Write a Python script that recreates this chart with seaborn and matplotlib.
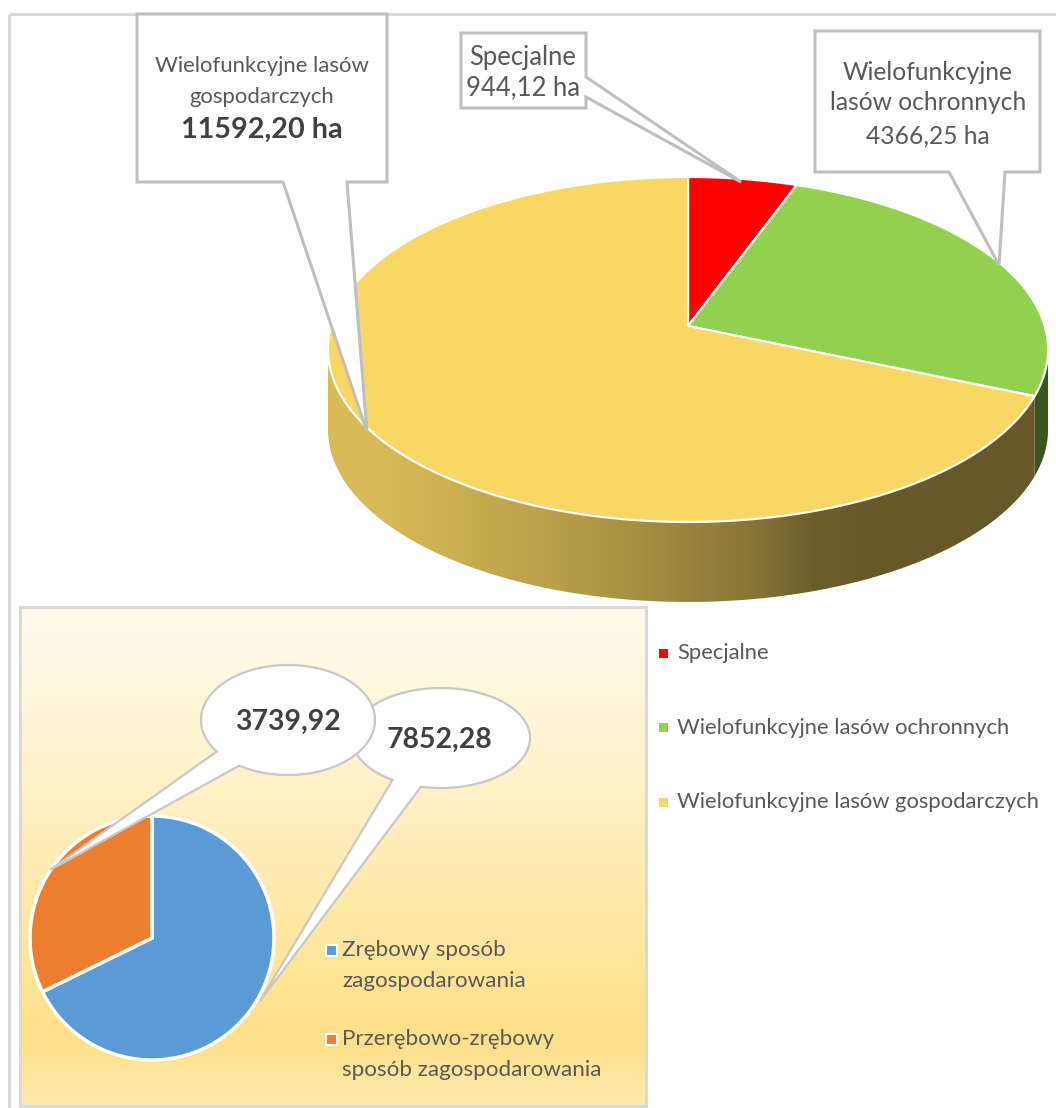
import numpy as np
import matplotlib
matplotlib.use("Agg")
import matplotlib.pyplot as plt
import seaborn as sns
from matplotlib.patches import Polygon, Rectangle
from matplotlib.colors import to_rgb

# ---------------- data ----------------
main_labels = ["Specjalne", "Wielofunkcyjne lasów ochronnych", "Wielofunkcyjne lasów gospodarczych"]
main_values = [944.12, 4366.25, 11592.20]
main_colors = ["#FF0000", "#92D050", "#FAD764"]

sub_labels = ["Zrębowy sposób\nzagospodarowania", "Przerębowo-zrębowy\nsposób zagospodarowania"]
sub_values = [7852.28, 3739.92]
sub_colors = ["#5B9BD5", "#ED7D31"]


def fmt(v):
    return f"{v:.2f}".replace(".", ",")


# ---------------- style ----------------
sns.set_theme(style="white")
plt.rcParams['font.family'] = ['Lato', 'DejaVu Sans']
GRAY = "#595959"
DARK = "#404040"
EDGE = "#BFBFBF"

W, H = 1056, 1108
fig = plt.figure(figsize=(W / 100, H / 100), dpi=100)
fig.patch.set_facecolor("white")
renderer = fig.canvas.get_renderer()


def pix_axes(z):
    ax = fig.add_axes([0, 0, 1, 1], zorder=z)
    ax.set_xlim(0, W)
    ax.set_ylim(H, 0)
    ax.axis("off")
    ax.patch.set_alpha(0)
    return ax


def fit_size(s, target, weight="normal"):
    t = fig.text(0, 0, s, fontsize=20, fontweight=weight)
    w = t.get_window_extent(renderer=renderer).width
    t.remove()
    return 20 * target / w


bg = pix_axes(0)

# outer chart frame
bg.plot([9, W], [14, 14], color="#D9D9D9", lw=2.2, solid_capstyle="butt")
bg.plot([9, 9], [14, H], color="#D9D9D9", lw=2.2, solid_capstyle="butt")

# ---------------- main 3D pie ----------------
cx, cy, A, B, p, depth = 688, 326, 356.7, 169.3, 0.136, 80


def proj(theta_deg):
    t = np.radians(theta_deg)
    u, v = np.cos(t), np.sin(t)
    w = 1 + p * v
    return cx + A * u / w, cy - B * v / w


total = float(np.sum(main_values))
fr = np.array(main_values) / total
edges = 90 - 360 * np.concatenate([[0], np.cumsum(fr)])

vlo = -180 + np.degrees(np.arcsin(p))
vhi = -np.degrees(np.arcsin(p))

# horizontal shading of the side wall
shade_x = [327, 391, 603, 745, 815, 886, 1049]
shade_f = [0.87, 0.86, 0.70, 0.555, 0.43, 0.41, 0.41]
xs_img = np.linspace(320, 1056, 400)
fac = np.interp(xs_img, shade_x, shade_f)

for i in range(len(main_values)):
    lo, hi = edges[i + 1], edges[i]
    for sh in (-360, 0, 360):
        a, b = max(lo + sh, vlo), min(hi + sh, vhi)
        if a < b:
            th = np.linspace(a, b, 200)
            tx, ty = proj(th)
            poly = np.vstack([np.column_stack([tx, ty]),
                              np.column_stack([tx[::-1], ty[::-1] + depth])])
            patch = Polygon(poly, closed=True, fc="none", ec="none")
            bg.add_patch(patch)
            rgb = np.array(to_rgb(main_colors[i]))
            img = (fac[None, :, None] * rgb[None, None, :]).clip(0, 1)
            im = bg.imshow(img, extent=(320, 1056, 620, 300), aspect="auto",
                           zorder=2, interpolation="bilinear")
            im.set_clip_path(patch)

for i in range(len(main_values)):
    th = np.linspace(edges[i], edges[i + 1], 300)
    tx, ty = proj(th)
    poly = np.vstack([[cx, cy], np.column_stack([tx, ty])])
    bg.add_patch(Polygon(poly, closed=True, fc=main_colors[i], ec="white",
                         lw=1.6, zorder=3, joinstyle="round"))

# ---------------- inset panel ----------------
ix0, iy0, ix1, iy1 = 20, 607, 646, 1106
gy = np.linspace(iy0, iy1, 300)
stops_y = [607, 800, 1000, 1045, 1106]
stops_c = [to_rgb(c) for c in ["#FFFBEF", "#FFF0C4", "#FFE390", "#FFE08A", "#FFEAAE"]]
gimg = np.stack([np.interp(gy, stops_y, [c[k] for c in stops_c]) for k in range(3)], axis=-1)
bg.imshow(gimg[:, None, :], extent=(ix0, ix1, iy1, iy0), aspect="auto", zorder=1)
bg.add_patch(Rectangle((ix0, iy0), ix1 - ix0, iy1 - iy0, fill=False,
                       ec="#D9D9D9", lw=2.2, zorder=1.5))

# inset pie
R, pcx, pcy = 122, 152, 938
half = 1.25 * R
axp = fig.add_axes([(pcx - half) / W, (H - pcy - half) / H, 2 * half / W, 2 * half / H], zorder=1)
axp.pie(sub_values, colors=sub_colors, startangle=90, counterclock=False,
        wedgeprops=dict(edgecolor="white", linewidth=2.5))
axp.set_xlim(-1.25, 1.25)
axp.set_ylim(-1.25, 1.25)
axp.set_aspect("equal")
axp.patch.set_alpha(0)
axp.axis("off")

# ---------------- overlay ----------------
ov = pix_axes(2)

# callout boxes of the main pie
box_gosp = [(137, 14), (387, 14), (387, 182), (347, 182), (367, 432), (283, 182), (137, 182)]
box_spec = [(461, 33), (586, 33), (586, 77), (741, 182), (586, 97), (586, 108), (461, 108)]
box_ochr = [(815, 31), (1040, 31), (1040, 172), (1005, 172), (999, 265), (949, 172), (815, 172)]
for pts in (box_gosp, box_spec, box_ochr):
    ov.add_patch(Polygon(pts, closed=True, fc="white", ec=EDGE, lw=2.2, zorder=5,
                         joinstyle="miter"))

s_box = fit_size("Wielofunkcyjne lasów", 214)
s_box_b = fit_size(fmt(main_values[2]) + " ha", 161, "bold")
ov.text(262, 66, "Wielofunkcyjne lasów", fontsize=s_box, color=GRAY, ha="center", va="center", zorder=6)
ov.text(262, 97, "gospodarczych", fontsize=s_box, color=GRAY, ha="center", va="center", zorder=6)
ov.text(262, 130, fmt(main_values[2]) + " ha", fontsize=s_box_b, fontweight="bold",
        color=DARK, ha="center", va="center", zorder=6)

s_spec = fit_size("Specjalne", 107)
ov.text(523, 57, main_labels[0], fontsize=s_spec, color=GRAY, ha="center", va="center", zorder=6)
ov.text(523, 88, fmt(main_values[0]) + " ha", fontsize=s_spec, color=GRAY, ha="center", va="center", zorder=6)

s_ochr = fit_size("lasów ochronnych", 197)
ov.text(928, 72, "Wielofunkcyjne", fontsize=s_ochr, color=GRAY, ha="center", va="center", zorder=6)
ov.text(928, 103, "lasów ochronnych", fontsize=s_ochr, color=GRAY, ha="center", va="center", zorder=6)
ov.text(928, 136, fmt(main_values[1]) + " ha", fontsize=s_ochr, color=GRAY, ha="center", va="center", zorder=6)

# main legend
s_leg = fit_size(main_labels[2], 362)
for i, (lab, col) in enumerate(zip(main_labels, main_colors)):
    yy = 653 + i * 74.5
    ov.add_patch(Rectangle((659, yy - 4.5), 9, 9, fc=col, ec="none", zorder=6))
    ov.text(677, yy, lab, fontsize=s_leg, color=GRAY, ha="left", va="center", zorder=6)


# speech bubbles for the inset pie
def bubble(ax, ecx, ecy, a, b, t1, t2, tip, z):
    ts = np.radians(np.linspace(t2, t1 + 360, 300))
    pts = np.column_stack([ecx + a * np.cos(ts), ecy + b * np.sin(ts)]).tolist() + [tip]
    ax.add_patch(Polygon(pts, closed=True, fc="white", ec="#C8C8C8", lw=1.6, zorder=z))


bubble(ov, 441, 738, 89, 50, 103, 123, (260, 1001), 5)
bubble(ov, 288, 720, 87, 55, 124, 145, (50, 870), 6)
s_bub = fit_size(fmt(sub_values[1]), 105, "bold")
ov.text(288, 722, fmt(sub_values[1]), fontsize=s_bub, fontweight="bold", color=DARK,
        ha="center", va="center", zorder=7)
ov.text(440, 740, fmt(sub_values[0]), fontsize=s_bub, fontweight="bold", color=DARK,
        ha="center", va="center", zorder=7)

# inset legend
s_ileg = fit_size("sposób zagospodarowania", 258)
for i, (lab, col) in enumerate(zip(sub_labels, sub_colors)):
    yy = 950 + i * 89
    ov.add_patch(Rectangle((326, yy - 5.5), 11, 11, fc=col, ec="white", lw=1.5, zorder=6))
    for j, line in enumerate(lab.split("\n")):
        ov.text(342, yy + j * 31, line, fontsize=s_ileg, color=GRAY, ha="left", va="center", zorder=6)

fig.savefig("out.png", dpi=100)
